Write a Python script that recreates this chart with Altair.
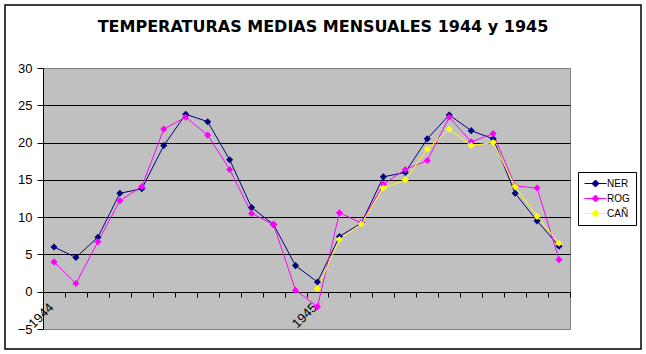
import altair as alt
import pandas as pd

# ---- data ----
titulo = ["TEMPERATURAS MEDIAS MENSUALES 1944 y 1945"]
meses = list(range(1, 25))
etiquetas_anio = {1: "1944", 13: "1945"}
series = ["NER", "ROG", "CAÑ"]
colores = ["#000080", "#FF00FF", "#FFFF00"]
ner = [6.0, 4.6, 7.3, 13.2, 13.8, 19.6, 23.8, 22.8, 17.7, 11.3, 9.0, 3.5,
       1.3, 7.4, 9.2, 15.4, 16.0, 20.5, 23.7, 21.6, 20.5, 13.2, 9.5, 6.1]
rog = [4.0, 1.1, 6.7, 12.2, 14.1, 21.8, 23.4, 21.0, 16.4, 10.5, 9.0, 0.2,
       -2.0, 10.6, 9.2, 14.4, 16.4, 17.6, 23.4, 20.1, 21.2, 14.2, 13.9, 4.3]
can = [None] * 12 + [0.4, 7.0, 9.1, 13.9, 15.0, 19.1, 21.8, 19.6, 20.0, 14.1, 10.1, 6.5]

rows = []
for name, vals in zip(series, [ner, rog, can]):
    for m, v in zip(meses, vals):
        rows.append({"mes": m, "serie": name, "temp": v})
df = pd.DataFrame(rows)

FONT = "Liberation Sans"
label_expr = " : ".join(
    [f"datum.value == {k} ? '{v}'" for k, v in etiquetas_anio.items()]) + " : ''"

W, H = 527, 261
zero_offset = -round(H * 5 / 35)

# legend symbol: a short line with a diamond in its middle
sym_path = "M-1,0L3.4,0M1.2,-0.7L1.9,0L1.2,0.7L0.5,0Z"
legend = alt.Legend(
    title=None, orient="none", legendX=535, legendY=104,
    fillColor="white", strokeColor="black", padding=6,
    labelFont=FONT, labelFontSize=10, labelColor="black", labelOffset=12,
    symbolType=sym_path, symbolSize=100, symbolStrokeWidth=1,
    symbolStrokeColor=alt.ExprRef("scale('color', datum.value)"),
    rowPadding=4,
)
color = alt.Color("serie:N", scale=alt.Scale(domain=series, range=colores),
                  sort=series, legend=legend)

x = alt.X("mes:O", scale=alt.Scale(type="band", paddingInner=0, paddingOuter=0),
          axis=alt.Axis(title=None, offset=zero_offset, tickBand="extent", tickSize=5,
                        domainColor="black", tickColor="black", labelColor="black",
                        labelAngle=-45, labelAlign="right", labelBaseline="middle",
                        labelExpr=label_expr, labelOverlap=False, labelFont=FONT,
                        labelFontSize=13, labelPadding=8, labelOffset=-3, grid=False))
y = alt.Y("temp:Q", scale=alt.Scale(domain=[-5, 30], nice=False, zero=False),
          axis=alt.Axis(title=None, values=list(range(-5, 31, 5)), tickSize=6,
                        domainColor="black", tickColor="black", labelColor="black",
                        labelFont=FONT, labelFontSize=13, labelPadding=5,
                        grid=True, gridColor="black", gridWidth=1,
                        gridOpacity={"condition": {"test": "datum.value <= 0 || datum.value >= 30",
                                                   "value": 0}, "value": 1}))

base = alt.Chart(df)
lines = base.mark_line(strokeWidth=1, clip=False).encode(x=x, y=y, color=color)
points = base.mark_point(shape="diamond", filled=True, size=50, opacity=1).encode(
    x=x, y=y, color=color)

border = alt.Chart(pd.DataFrame({"k": [0]})).mark_rect(
    fill="transparent", stroke="black", strokeWidth=1.5).encode(
    x=alt.value(-38), x2=alt.value(598), y=alt.value(-63), y2=alt.value(281))

title = alt.Chart(pd.DataFrame({"t": titulo})).mark_text(
    font="DejaVu Sans", fontSize=16, fontWeight="bold", color="black",
    align="center", baseline="middle").encode(
    text="t:N", x=alt.value(280), y=alt.value(-41))

chart = alt.layer(border, title, lines, points).properties(
    width=W, height=H,
    autosize=alt.AutoSizeParams(type="none"),
    padding={"left": 43, "top": 68, "right": 76, "bottom": 25},
    background="white",
).configure_view(fill="#C0C0C0", stroke="#808080", strokeWidth=1)

chart.save("out.html", embed_options={"renderer": "svg", "actions": False})
